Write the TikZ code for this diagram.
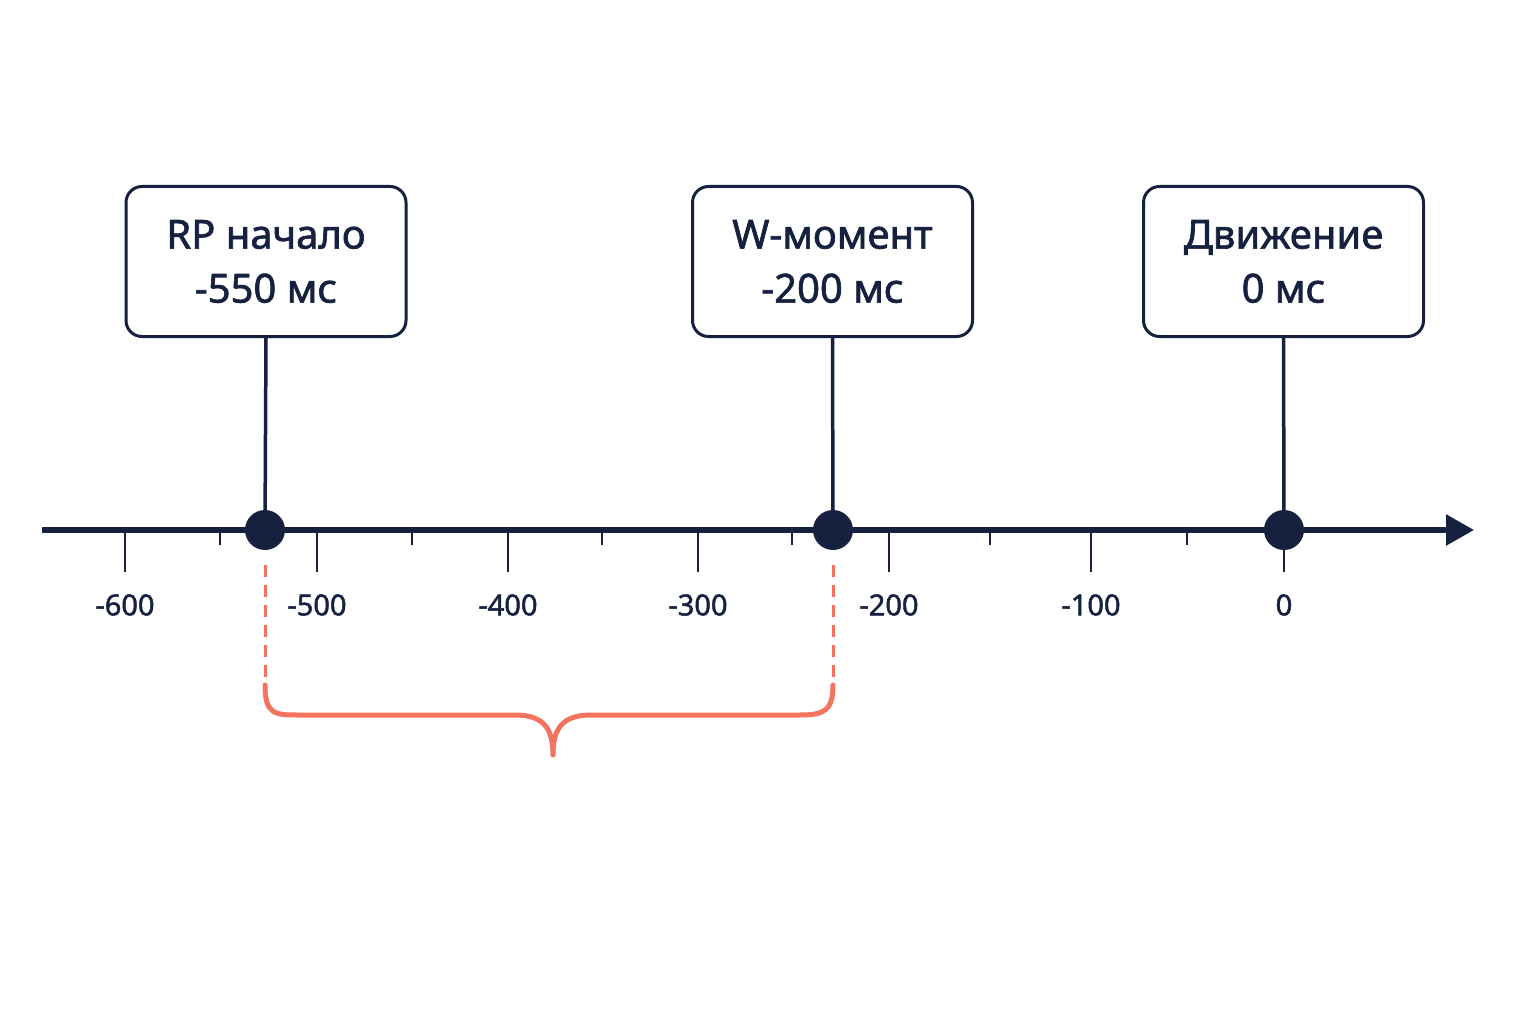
\documentclass[tikz,border=0pt]{standalone}
\usepackage{fontspec}
\setmainfont{Noto Sans}
\newfontfamily\semib[FakeBold=1.6]{Noto Sans}
\usetikzlibrary{arrows.meta}
\definecolor{navy}{HTML}{15213F}
\definecolor{coral}{HTML}{F47460}
\begin{document}
\begin{tikzpicture}[x=1pt,y=-1pt,
  box/.style={draw=navy,line width=3pt,rounded corners=16pt,fill=white,minimum width=280pt,minimum height=150pt,align=center,font=\semib\fontsize{40}{54}\selectfont,text=navy},
  dot/.style={circle,fill=navy,minimum size=40pt,inner sep=0pt},
  tl/.style={font=\semib\fontsize{29}{30}\selectfont,text=navy},
  ax/.style={navy,line width=5.5pt},
  tk/.style={navy,line width=2.2pt}]
\useasboundingbox (0,0) rectangle (1536,1024);
\coordinate (a0) at (42,530);
\coordinate (a1) at (1474,530);
\draw[ax,-{Triangle[length=28pt,width=30pt]}] (a0) -- (a1);
\foreach \x/\l in {125/-600,317/-500,508/-400,698/-300,889/-200,1091/-100,1284/0}{
  \draw[tk] (\x,530) -- (\x,572);
  \node[tl] at (\x,605) {\l};}
\foreach \x in {220,412,602,792,990,1187}{\draw[tk] (\x,530) -- (\x,545);}
\node[box] (b1) at (266,261.5) {RP начало\\-550 мс};
\node[box] (b2) at (832.5,261.5) {W-момент\\-200 мс};
\node[box] (b3) at (1283.5,261.5) {Движение\\0 мс};
\node[dot] (d1) at (265,530) {};
\node[dot] (d2) at (833,530) {};
\node[dot] (d3) at (1284,530) {};
\foreach \i in {1,2,3}{\draw[navy,line width=3.5pt] (b\i.south) -- (d\i.center);}
\coordinate (e1) at (265,565); \coordinate (f1) at (265,685);
\coordinate (e2) at (833,565); \coordinate (f2) at (833,685);
\draw[coral,line width=3pt,dash pattern=on 12pt off 8pt] (e1) -- (f1);
\draw[coral,line width=3pt,dash pattern=on 12pt off 8pt] (e2) -- (f2);
\coordinate (tip) at (553,755);
\draw[coral,line width=5pt,line cap=round,line join=round]
  (f1) .. controls (265,715) and (275,715) .. (300,715) -- (515,715)
  .. controls (545,715) and (553,730) .. (tip)
  .. controls (553,730) and (561,715) .. (591,715) -- (800,715)
  .. controls (825,715) and (833,710) .. (f2);
\end{tikzpicture}
\end{document}
